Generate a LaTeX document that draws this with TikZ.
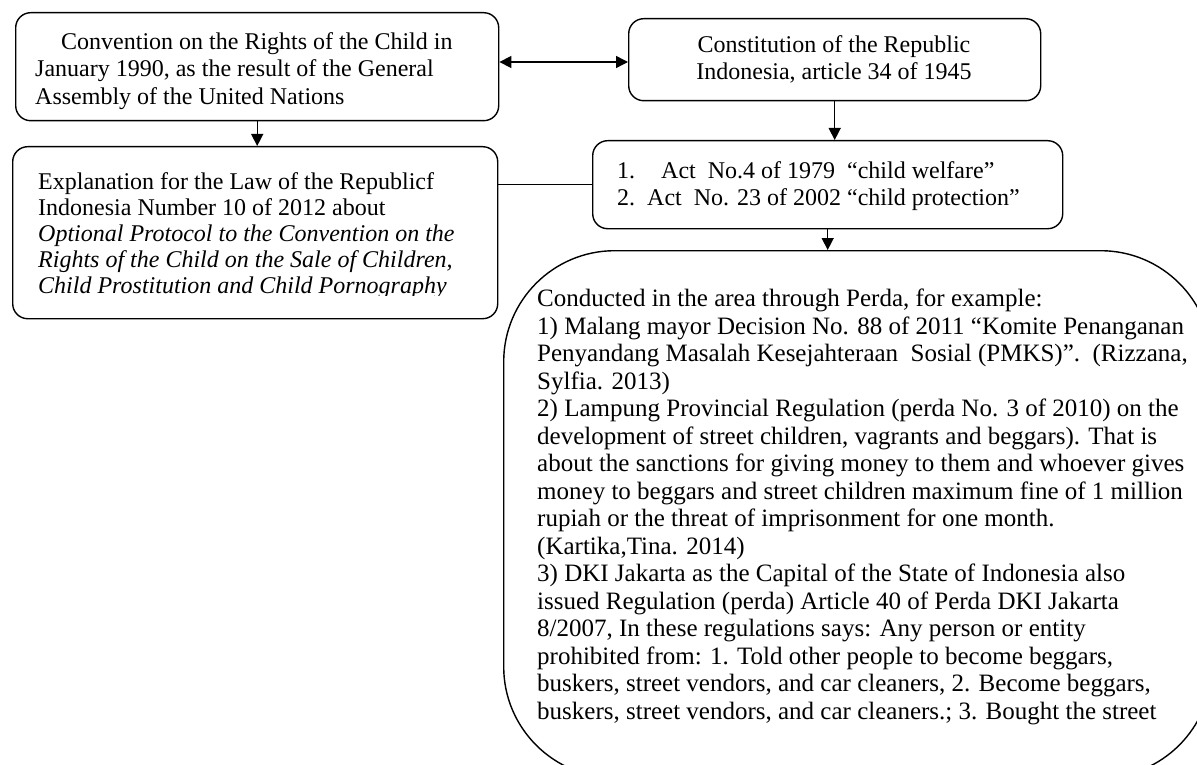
\documentclass[tikz,border=0pt]{standalone}
\usepackage{fontspec}
\setmainfont{Liberation Serif}
\usetikzlibrary{arrows.meta}
\begin{document}
\begin{tikzpicture}[x=1pt,y=-1pt,
  box/.style={draw, line width=1.4pt, rounded corners=15pt, anchor=north west, inner sep=0pt},
  bigbox/.style={draw, line width=1.4pt, rounded corners=111pt, anchor=north west, inner sep=0pt},
  txt/.style={font=\fontsize{24}{27.5}\selectfont, align=left, anchor=north west, inner sep=0pt},
  ctxtl/.style={font=\fontsize{24}{26}\selectfont, align=left, anchor=north west, inner sep=0pt},
  etxt/.style={font=\fontsize{25}{27.5}\selectfont, align=left, anchor=north west, inner sep=0pt},
  ctxt/.style={font=\fontsize{24}{27}\selectfont, align=center, anchor=north, inner sep=0pt},
  arr/.style={-{Triangle[length=12pt,width=12pt]}, line width=1.4pt},
  darr/.style={{Triangle[length=12pt,width=12pt]}-{Triangle[length=12pt,width=12pt]}, line width=1.4pt},
  link/.style={line width=1.4pt}]
\useasboundingbox (0,0) rectangle (1197,765);
\clip (0,0) rectangle (1197,765);
% boxes
\node[box, minimum width=483pt, minimum height=108pt] (A) at (15,12) {};
\node[box, minimum width=412pt, minimum height=82pt] (B) at (628,18) {};
\node[box, minimum width=485pt, minimum height=172pt] (C) at (12,146) {};
\node[box, minimum width=470pt, minimum height=88pt] (D) at (592,140) {};
\node[bigbox, minimum width=708pt, minimum height=527pt] (E) at (503,250) {};
% texts
\node[txt] (At) at (35,32) {\hspace{26pt}Convention on the Rights of the Child in\\
January 1990, as the result of the General\\
Assembly of the United Nations};
\node[ctxt] (Bt) at (834,35) {Constitution of the Republic\\
Indonesia, article 34 of 1945};
\begin{scope}
\clip (12,146) rectangle (497,295);
\node[ctxtl] (Ct) at (38,172) {Explanation for the Law of the Republicf\\
Indonesia Number 10 of 2012 about\\
\itshape Optional Protocol to the Convention on the\\
\itshape Rights of the Child on the Sale of Children,\\
\itshape Child Prostitution and Child Pornography};
\end{scope}
\node[txt] (Dt) at (617,161) {1.\hspace{26pt}Act\ \ No.4 of 1979\ \ “child welfare”\\
2.\ \ Act\ \ No. 23 of 2002 “child protection”};
\node[etxt] (Et) at (537,289) {Conducted in the area through Perda, for example:\\
1) Malang mayor Decision No. 88 of 2011 “Komite Penanganan\\
Penyandang Masalah Kesejahteraan\ \ Sosial (PMKS)”.\ \ (Rizzana,\\
Sylfia. 2013)\\
2) Lampung Provincial Regulation (perda No. 3 of 2010) on the\\
development of street children, vagrants and beggars). That is\\
about the sanctions for giving money to them and whoever gives\\
money to beggars and street children maximum fine of 1 million\\
rupiah or the threat of imprisonment for one month.\\
(Kartika,Tina. 2014)\\
3) DKI Jakarta as the Capital of the State of Indonesia also\\
issued Regulation (perda) Article 40 of Perda DKI Jakarta\\
8/2007, In these regulations says: Any person or entity\\
prohibited from: 1. Told other people to become beggars,\\
buskers, street vendors, and car cleaners, 2. Become beggars,\\
buskers, street vendors, and car cleaners.; 3. Bought the street};
% connectors
\draw[darr] (A.east |- 0,62) -- (B.west |- 0,62);
\draw[arr] (A.south) -- (A.south |- C.north);
\draw[arr] (B.south) -- (B.south |- D.north);
\draw[arr] (D.south) -- (D.south |- E.north);
\draw[link] (D.west -| C.east) -- (D.west);
\end{tikzpicture}
\end{document}
